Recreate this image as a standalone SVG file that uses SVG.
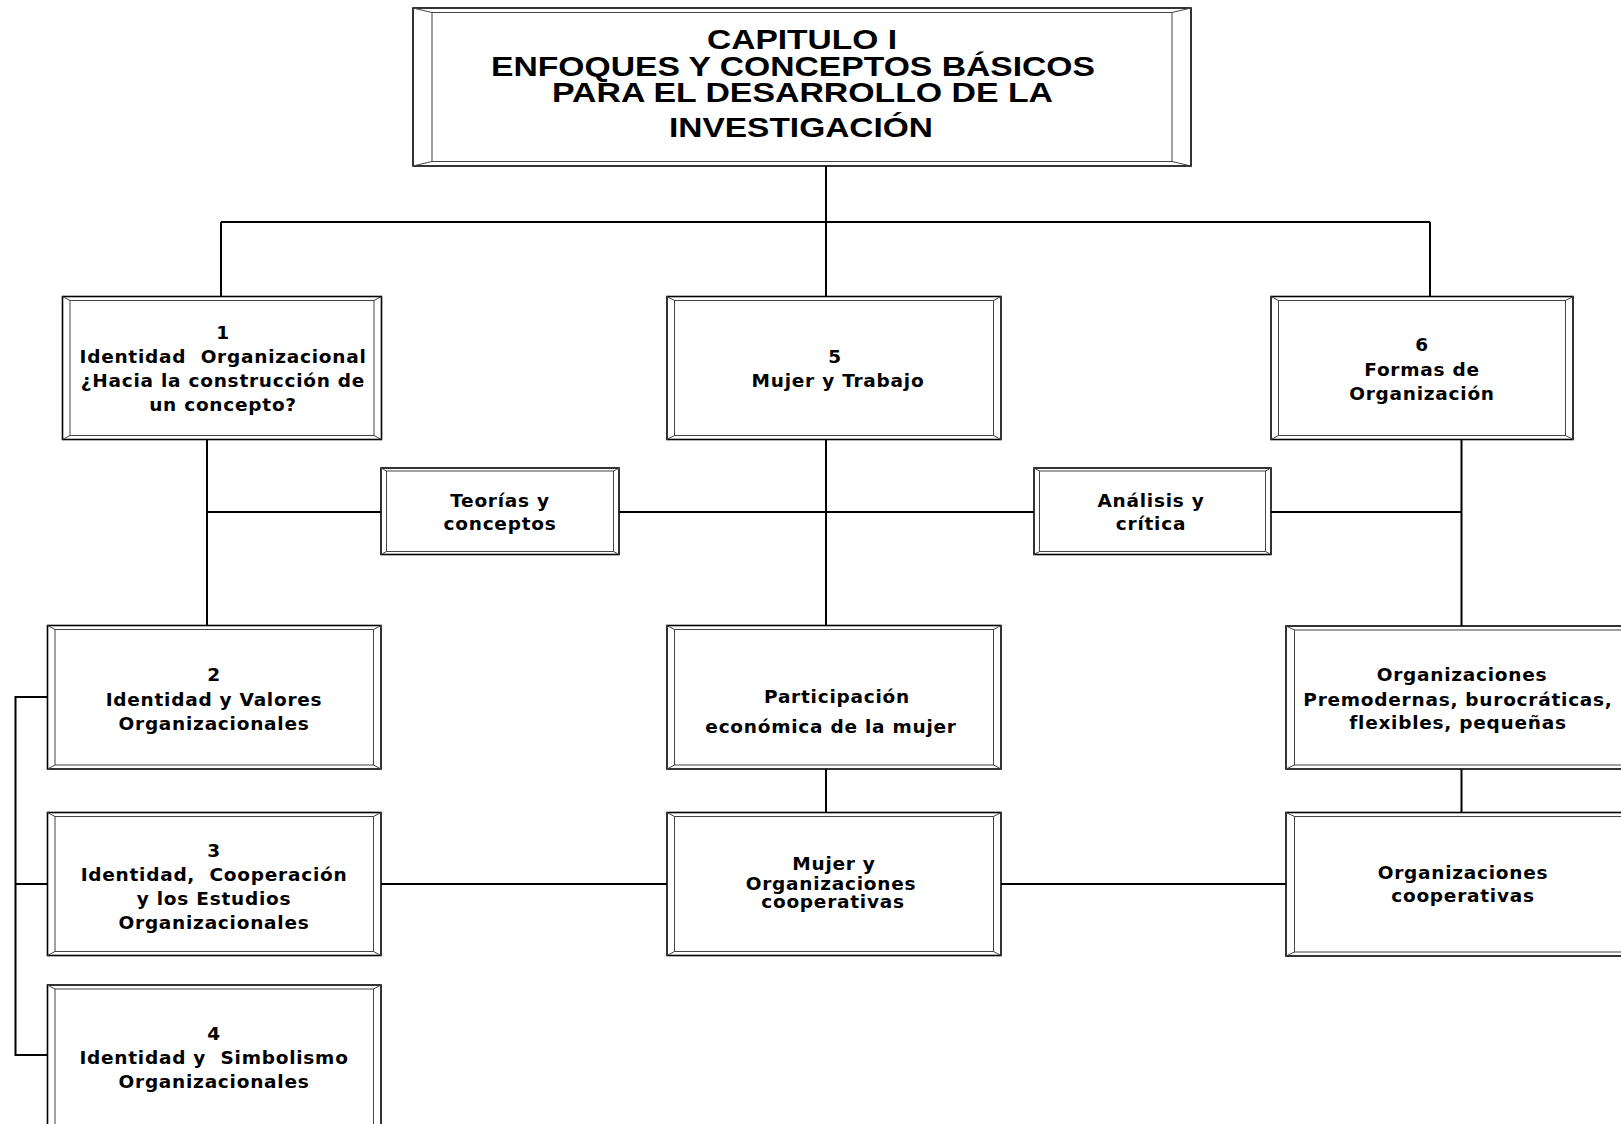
<svg xmlns="http://www.w3.org/2000/svg" width="1621" height="1124" viewBox="0 0 1621 1124">
  <style>
    .outer { fill: #fff; stroke: #000; stroke-width: 1.6; }
    .inner { fill: none; stroke: #444; stroke-width: 1; }
    .bevel { fill: none; stroke: #444; stroke-width: 1; }
    .link { fill: none; stroke: #000; stroke-width: 2; }
    .title { font-family: "Liberation Sans", Arial, sans-serif; font-weight: bold; font-size: 28px; fill: #000; }
    .lbl { font-family: "DejaVu Sans", Verdana, sans-serif; font-weight: bold; font-size: 18.5px; letter-spacing: 0.75px; fill: #000; text-anchor: middle; }
  </style>
  <rect width="1621" height="1124" fill="#fff"/>

  <!-- connectors -->
  <g id="connectors" class="link">
    <path d="M826 166 V222 M221 222 H1430 M221 222 V296.5 M826 222 V296.5 M1430 222 V296.5"/>
    <path d="M207 439.5 V625.5 M826 439.5 V625.5 M1461.5 439.5 V626"/>
    <path d="M207 512 H381 M619 512 H1034 M1271 512 H1461.5"/>
    <path d="M826 769 V812.5 M1461.5 769 V812.5"/>
    <path d="M381 884 H667 M1001 884 H1286"/>
    <path d="M47.5 697 H15.5 V1055 H47.5 M15.5 884 H47.5"/>
  </g>

  <!-- chapter heading -->
  <g id="node-title">
    <rect class="outer" x="413" y="8" width="778" height="158"/>
    <rect class="inner" x="432" y="12.5" width="740" height="149"/>
    <path class="bevel" d="M413 8 L432 12.5 M1191 8 L1172 12.5 M413 166 L432 161.5 M1191 166 L1172 161.5"/>
    <text class="title" x="707" y="48.5" textLength="190" lengthAdjust="spacingAndGlyphs">CAPITULO I</text>
    <text class="title" x="491" y="76" textLength="604" lengthAdjust="spacingAndGlyphs">ENFOQUES Y CONCEPTOS BÁSICOS</text>
    <text class="title" x="552" y="101.5" textLength="501" lengthAdjust="spacingAndGlyphs">PARA EL DESARROLLO DE LA</text>
    <text class="title" x="669" y="137" textLength="264" lengthAdjust="spacingAndGlyphs">INVESTIGACIÓN</text>
  </g>

  <g id="node-1">
    <rect class="outer" x="62.5" y="296.5" width="319" height="143"/>
    <rect class="inner" x="70" y="300.5" width="304" height="135"/>
    <path class="bevel" d="M62.5 296.5 L70 300.5 M381.5 296.5 L374 300.5 M62.5 439.5 L70 435.5 M381.5 439.5 L374 435.5"/>
    <text class="lbl" x="223" y="339">1</text>
    <text class="lbl" x="223" y="363" xml:space="preserve">Identidad  Organizacional</text>
    <text class="lbl" x="223" y="387">¿Hacia la construcción de</text>
    <text class="lbl" x="223" y="411">un concepto?</text>
  </g>

  <g id="node-5">
    <rect class="outer" x="667" y="296.5" width="334" height="143"/>
    <rect class="inner" x="674.5" y="300.5" width="319" height="135"/>
    <path class="bevel" d="M667 296.5 L674.5 300.5 M1001 296.5 L993.5 300.5 M667 439.5 L674.5 435.5 M1001 439.5 L993.5 435.5"/>
    <text class="lbl" x="835" y="363">5</text>
    <text class="lbl" x="838" y="387">Mujer y Trabajo</text>
  </g>

  <g id="node-6">
    <rect class="outer" x="1271" y="296.5" width="302" height="143"/>
    <rect class="inner" x="1278.5" y="300.5" width="287" height="135"/>
    <path class="bevel" d="M1271 296.5 L1278.5 300.5 M1573 296.5 L1565.5 300.5 M1271 439.5 L1278.5 435.5 M1573 439.5 L1565.5 435.5"/>
    <text class="lbl" x="1422" y="351">6</text>
    <text class="lbl" x="1422" y="375.5">Formas de</text>
    <text class="lbl" x="1422" y="399.5">Organización</text>
  </g>

  <g id="node-teorias">
    <rect class="outer" x="381" y="468" width="238" height="86.5"/>
    <rect class="inner" x="386.5" y="471" width="227" height="80.5"/>
    <path class="bevel" d="M381 468 L386.5 471 M619 468 L613.5 471 M381 554.5 L386.5 551.5 M619 554.5 L613.5 551.5"/>
    <text class="lbl" x="500" y="506.5">Teorías y</text>
    <text class="lbl" x="500" y="530">conceptos</text>
  </g>

  <g id="node-analisis">
    <rect class="outer" x="1034" y="468" width="237" height="86.5"/>
    <rect class="inner" x="1039.5" y="471" width="226" height="80.5"/>
    <path class="bevel" d="M1034 468 L1039.5 471 M1271 468 L1265.5 471 M1034 554.5 L1039.5 551.5 M1271 554.5 L1265.5 551.5"/>
    <text class="lbl" x="1151" y="506.5">Análisis y</text>
    <text class="lbl" x="1151" y="530">crítica</text>
  </g>

  <g id="node-2">
    <rect class="outer" x="47.5" y="625.5" width="333.5" height="143.5"/>
    <rect class="inner" x="55" y="629.5" width="318.5" height="135.5"/>
    <path class="bevel" d="M47.5 625.5 L55 629.5 M381 625.5 L373.5 629.5 M47.5 769 L55 765 M381 769 L373.5 765"/>
    <text class="lbl" x="214" y="681">2</text>
    <text class="lbl" x="214" y="705.5">Identidad y Valores</text>
    <text class="lbl" x="214" y="729.5">Organizacionales</text>
  </g>

  <g id="node-participacion">
    <rect class="outer" x="667" y="625.5" width="334" height="143.5"/>
    <rect class="inner" x="674.5" y="629.5" width="319" height="135.5"/>
    <path class="bevel" d="M667 625.5 L674.5 629.5 M1001 625.5 L993.5 629.5 M667 769 L674.5 765 M1001 769 L993.5 765"/>
    <text class="lbl" x="837" y="703">Participación</text>
    <text class="lbl" x="831" y="733">económica de la mujer</text>
  </g>

  <g id="node-formas-org">
    <rect class="outer" x="1286" y="626" width="359" height="143"/>
    <rect class="inner" x="1294.5" y="630" width="342" height="135"/>
    <path class="bevel" d="M1286 626 L1294.5 630 M1286 769 L1294.5 765"/>
    <text class="lbl" x="1462" y="681">Organizaciones</text>
    <text class="lbl" x="1458" y="705.5">Premodernas, burocráticas,</text>
    <text class="lbl" x="1458" y="729">flexibles, pequeñas</text>
  </g>

  <g id="node-3">
    <rect class="outer" x="47.5" y="812.5" width="333.5" height="143"/>
    <rect class="inner" x="55" y="816.5" width="318.5" height="135"/>
    <path class="bevel" d="M47.5 812.5 L55 816.5 M381 812.5 L373.5 816.5 M47.5 955.5 L55 951.5 M381 955.5 L373.5 951.5"/>
    <text class="lbl" x="214" y="857">3</text>
    <text class="lbl" x="214" y="880.5" xml:space="preserve">Identidad,  Cooperación</text>
    <text class="lbl" x="214" y="904.5">y los Estudios</text>
    <text class="lbl" x="214" y="928.5">Organizacionales</text>
  </g>

  <g id="node-mujer-coop">
    <rect class="outer" x="667" y="812.5" width="334" height="143"/>
    <rect class="inner" x="674.5" y="816.5" width="319" height="135"/>
    <path class="bevel" d="M667 812.5 L674.5 816.5 M1001 812.5 L993.5 816.5 M667 955.5 L674.5 951.5 M1001 955.5 L993.5 951.5"/>
    <text class="lbl" x="834" y="870">Mujer y</text>
    <text class="lbl" x="831" y="889.5">Organizaciones</text>
    <text class="lbl" x="833" y="908">cooperativas</text>
  </g>

  <g id="node-org-coop">
    <rect class="outer" x="1286" y="812.5" width="359" height="143.5"/>
    <rect class="inner" x="1294.5" y="816.5" width="342" height="135.5"/>
    <path class="bevel" d="M1286 812.5 L1294.5 816.5 M1286 956 L1294.5 952"/>
    <text class="lbl" x="1463" y="878.5">Organizaciones</text>
    <text class="lbl" x="1463" y="902">cooperativas</text>
  </g>

  <g id="node-4">
    <rect class="outer" x="47.5" y="985" width="333.5" height="160"/>
    <rect class="inner" x="55" y="989" width="318.5" height="152"/>
    <path class="bevel" d="M47.5 985 L55 989 M381 985 L373.5 989"/>
    <text class="lbl" x="214" y="1040">4</text>
    <text class="lbl" x="214" y="1064" xml:space="preserve">Identidad y  Simbolismo</text>
    <text class="lbl" x="214" y="1088">Organizacionales</text>
  </g>
</svg>
